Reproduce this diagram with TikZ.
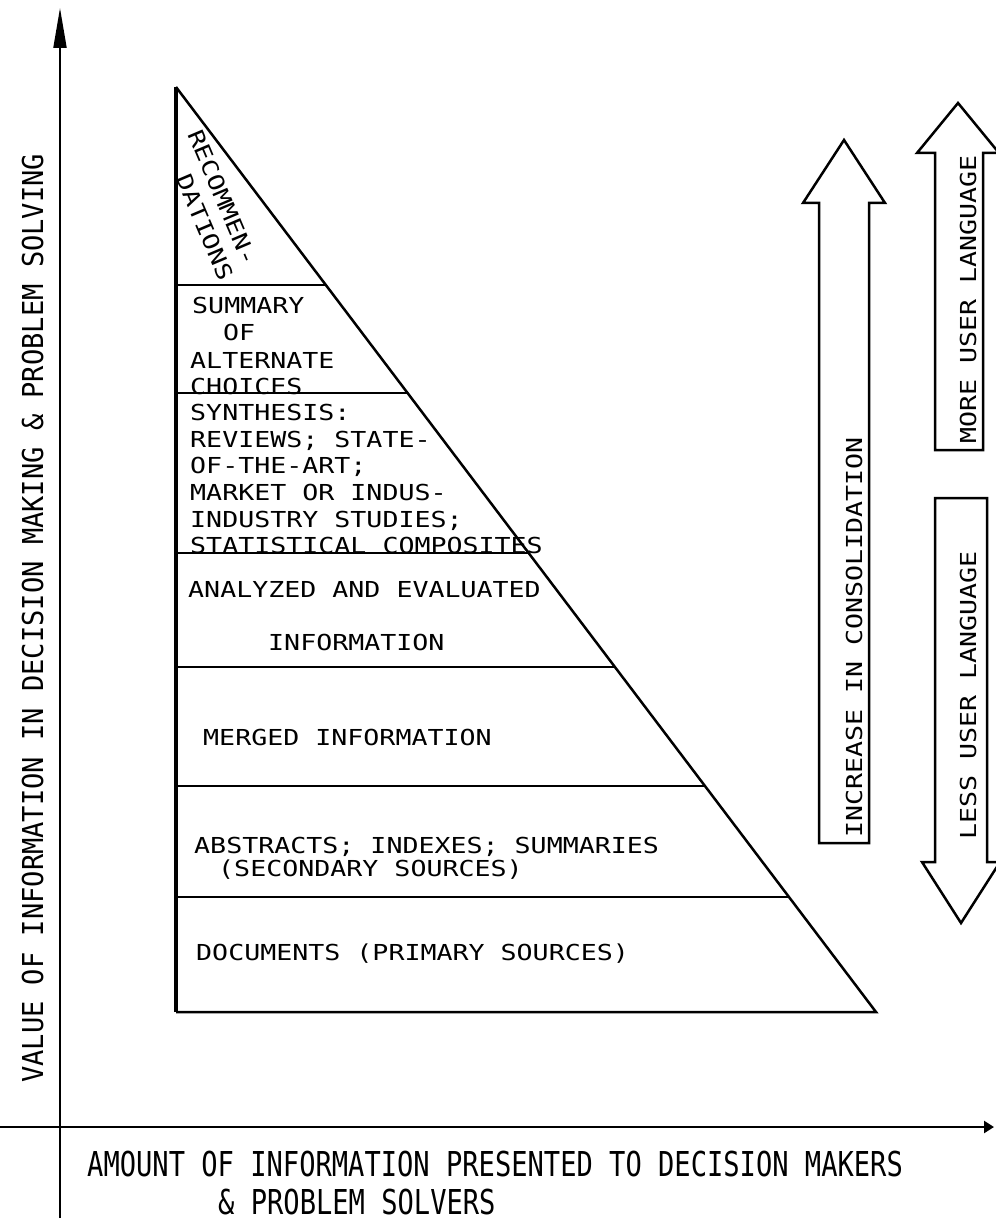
\documentclass[tikz,border=0pt]{standalone}
\usepackage{fontspec}
\usetikzlibrary{calc,arrows.meta}
\newfontfamily\innerfont[FakeStretch=1.21]{DejaVu Sans Mono}
\newfontfamily\ylabfont[FakeStretch=0.94]{DejaVu Sans Mono}
\newfontfamily\xlabfont[FakeStretch=0.79]{DejaVu Sans Mono}
\begin{document}
\begin{tikzpicture}[x=1pt,y=-1pt,line join=miter,
  txt/.style={inner sep=0pt,anchor=base west,font=\innerfont\fontsize{22}{26}\selectfont},
  ylab/.style={inner sep=0pt,anchor=base west,font=\ylabfont\fontsize{28.8}{32}\selectfont},
  xlab/.style={inner sep=0pt,anchor=base west,font=\xlabfont\fontsize{34.3}{38}\selectfont},
  divider/.style={line width=2pt},
  bigarrow/.style={line width=2.5pt,fill=white}]
\useasboundingbox (0,0) rectangle (995,1222);
% axes
\coordinate (yb) at (60,1218);
\coordinate (yt) at (60,8);
\draw[line width=2pt,-{Triangle[length=40pt,width=13pt]}] (yb) -- (yt);
\coordinate (xl) at (0,1127);
\coordinate (xr) at (994,1127);
\draw[line width=2.4pt,-{Triangle[length=10pt,width=12pt]}] (xl) -- (xr);
% triangle
\coordinate (T) at (176,87);
\coordinate (B) at (876,1012);
\coordinate (L) at (176,1012);
\draw[line width=2.5pt] (T) -- (B) -- (L);
\draw[line width=4.5pt] (L) -- (T);
\foreach \f/\n in {0.2141/1,0.3308/2,0.5038/3,0.6270/4,0.7557/5,0.8757/6}{
  \coordinate (h\n) at ($(T)!\f!(B)$);
  \draw[divider] (T |- h\n) -- (h\n);
}
% texts in the triangle
\node[txt,rotate=-67] (rec1) at (187,134) {RECOMMEN-};
\node[txt,rotate=-67] (rec2) at (175.5,178.7) {DATIONS};
\node[txt] (sum1) at (192,313) {SUMMARY};
\node[txt] (sum2) at (223,340) {OF};
\node[txt] (sum3) at (190,368) {ALTERNATE};
\node[txt] (sum4) at (190,394) {CHOICES};
\node[txt] (syn1) at (190,420) {SYNTHESIS:};
\node[txt] (syn2) at (190,447) {REVIEWS; STATE-};
\node[txt] (syn3) at (190,473) {OF-THE-ART;};
\node[txt] (syn4) at (190,500) {MARKET OR INDUS-};
\node[txt] (syn5) at (190,527) {INDUSTRY STUDIES;};
\node[txt] (syn6) at (190,553) {STATISTICAL COMPOSITES};
\node[txt] (ana1) at (188,597) {ANALYZED AND EVALUATED};
\node[txt] (ana2) at (268,650) {INFORMATION};
\node[txt] (mer) at (203,745) {MERGED INFORMATION};
\node[txt] (abs1) at (194,853) {ABSTRACTS; INDEXES; SUMMARIES};
\node[txt] (abs2) at (218,876) {(SECONDARY SOURCES)};
\node[txt] (doc) at (196,960) {DOCUMENTS (PRIMARY SOURCES)};
% big arrows
\draw[bigarrow] (819,843) -- (819,203) -- (803,203) -- (844,140) -- (885,203) -- (869,203) -- (869,843) -- cycle;
\draw[bigarrow] (935,450) -- (935,153) -- (917,153) -- (958,103) -- (999,153) -- (983,153) -- (983,450) -- cycle;
\draw[bigarrow] (935,498) -- (987,498) -- (987,862) -- (1000,862) -- (961,923) -- (922,862) -- (935,862) -- cycle;
\node[txt,rotate=90] (inc) at (862,838) {INCREASE IN CONSOLIDATION};
\node[txt,rotate=90] (more) at (976,444) {MORE USER LANGUAGE};
\node[txt,rotate=90] (less) at (976,840) {LESS USER LANGUAGE};
% axis labels
\node[ylab,rotate=90] (ylabel) at (43,1083) {VALUE OF INFORMATION IN DECISION MAKING \& PROBLEM SOLVING};
\node[xlab] (xlabel1) at (87,1176) {AMOUNT OF INFORMATION PRESENTED TO DECISION MAKERS};
\node[xlab] (xlabel2) at (218,1214) {\& PROBLEM SOLVERS};
\end{tikzpicture}
\end{document}
